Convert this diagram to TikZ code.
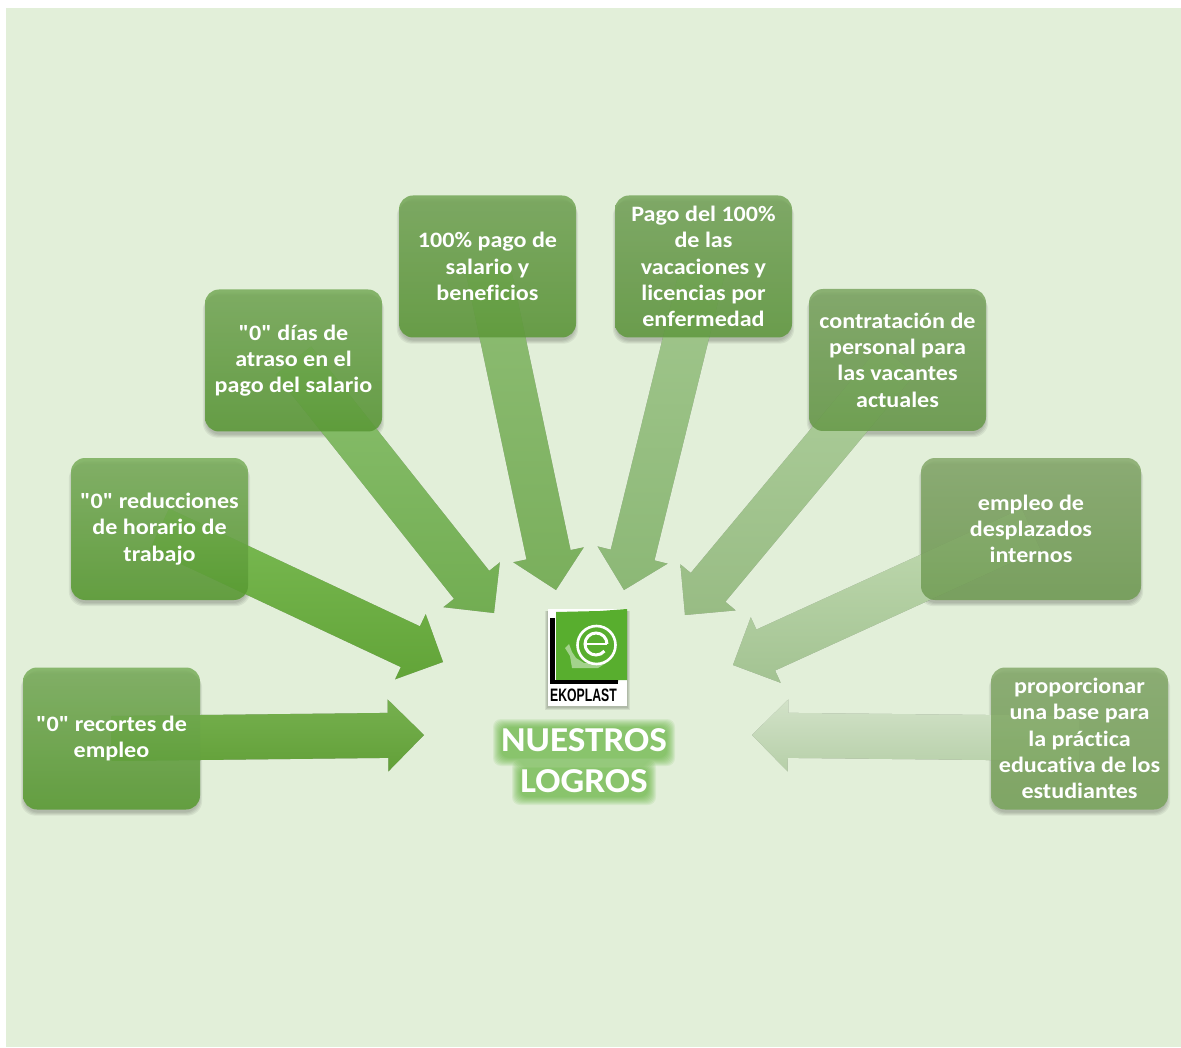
\documentclass[tikz,border=0pt]{standalone}
\usepackage{fontspec}
\newfontfamily\boxfont[Ligatures={NoCommon},FakeStretch=1.095]{Carlito}
\newfontfamily\titlefont[Ligatures={NoCommon},FakeStretch=1.064]{Carlito}
\newfontfamily\logofont{Liberation Sans}
\usetikzlibrary{calc}
\pgfdeclarelayer{pagebg}
\pgfdeclarelayer{arrowlayer}
\pgfsetlayers{pagebg,arrowlayer,main}
\definecolor{pagegreen}{HTML}{E2EFD9}
\definecolor{logogreen}{HTML}{58AE2E}
\definecolor{bta}{HTML}{7AAE5C}\definecolor{bba}{HTML}{579A30}
\definecolor{btb}{HTML}{7AAE5C}\definecolor{bbb}{HTML}{579A30}
\definecolor{btc}{HTML}{76AA58}\definecolor{bbc}{HTML}{599835}
\definecolor{btd}{HTML}{74A657}\definecolor{bbd}{HTML}{5C9838}
\definecolor{bte}{HTML}{77A65C}\definecolor{bbe}{HTML}{5F983E}
\definecolor{btf}{HTML}{7CA662}\definecolor{bbf}{HTML}{669948}
\definecolor{btg}{HTML}{85A96B}\definecolor{bbg}{HTML}{709C53}
\definecolor{bth}{HTML}{85AA6B}\definecolor{bbh}{HTML}{78A35A}
\definecolor{ata}{HTML}{76B04F}\definecolor{aba}{HTML}{62A038}
\definecolor{atb}{HTML}{7BBB54}\definecolor{abb}{HTML}{62A438}
\definecolor{atc}{HTML}{8AC06E}\definecolor{abc}{HTML}{72AD52}
\definecolor{atd}{HTML}{8EBD74}\definecolor{abd}{HTML}{7AAF5C}
\definecolor{ate}{HTML}{A2C78E}\definecolor{abe}{HTML}{8CB876}
\definecolor{atf}{HTML}{AECF9C}\definecolor{abf}{HTML}{98BC84}
\definecolor{atg}{HTML}{C2DBB2}\definecolor{abg}{HTML}{A3C392}
\definecolor{ath}{HTML}{D2E2C8}\definecolor{abh}{HTML}{B6CFA8}
\tikzset{
  goalbox/.style n args={2}{rounded corners=14pt,minimum height=142pt,inner sep=0pt,
    top color=#1,bottom color=#2,fill opacity=.86,text opacity=1,text=white,
    font=\boxfont\fontsize{22}{26.3}\selectfont\bfseries,align=center},
  boxwide/.style={minimum width=177pt},
  titletext/.style={text=white,font=\titlefont\fontsize{35}{41}\selectfont\bfseries,align=center,inner sep=0pt}
}
\newcommand{\boxshadow}[1]{%
  \begin{pgfonlayer}{arrowlayer}
  \foreach \gx/\gy in {-1/3,0/4,1/5,2/6}{
    \fill[black,opacity=.06,rounded corners=15pt]
      ($(#1.north west)+(-\gx,\gy)$) rectangle ($(#1.south east)+(\gx,\gy)$);
  }
  \end{pgfonlayer}}
\newcommand{\blockarrow}[4]{%
  \begin{pgfonlayer}{arrowlayer}
  \coordinate (hb) at ($(#2)!36pt!(#1.center)$);
  \coordinate (p1) at ($(#1.center)!22.5pt!-90:(#2)$);
  \coordinate (p2) at ($(hb)!22.5pt!-90:(#2)$);
  \coordinate (p3) at ($(hb)!36pt!-90:(#2)$);
  \coordinate (p4) at ($(hb)!36pt!90:(#2)$);
  \coordinate (p5) at ($(hb)!22.5pt!90:(#2)$);
  \coordinate (p6) at ($(#1.center)!22.5pt!90:(#2)$);
  \foreach \sx/\sy in {0/1,0/2,0/3,0/4}{
    \fill[black,opacity=.09,shift={(\sx,\sy)}] (p1)--(p2)--(p3)--(#2)--(p4)--(p5)--(p6)--cycle;
  }
  \shade[top color=#3,bottom color=#4] (p1)--(p2)--(p3)--(#2)--(p4)--(p5)--(p6)--cycle;
  \end{pgfonlayer}}
\begin{document}
\begin{tikzpicture}[x=1pt,y=-1pt]
\useasboundingbox (0,0) rectangle (1181,1048);
\begin{pgfonlayer}{pagebg}
  \fill[white] (0,0) rectangle (1181,1048);
  \fill[pagegreen] (6,8) rectangle (1181,1047);
\end{pgfonlayer}

% boxes
\node[goalbox={bta}{bba},boxwide] (b1) at (111.5,738.5) {"0" recortes de\\empleo};
\node[goalbox={btb}{bbb},boxwide] (b2) at (159.5,529) {"0" reducciones\\de horario de\\trabajo};
\node[goalbox={btc}{bbc},boxwide] (b3) at (293.5,360.5) {"0" días de\\atraso en el\\pago del salario};
\node[goalbox={btd}{bbd},boxwide] (b4) at (487.5,266.5) {100\% pago de\\salario y\\beneficios};
\node[goalbox={bte}{bbe},boxwide] (b5) at (703.5,266.5) {Pago del 100\%\\de las\\vacaciones y\\licencias por\\enfermedad};
\node[goalbox={btf}{bbf},boxwide] (b6) at (897.5,360) {contratación de\\personal para\\las vacantes\\actuales};
\node[goalbox={btg}{bbg},minimum width=220pt] (b7) at (1031,529) {empleo de\\desplazados\\internos};
\node[goalbox={bth}{bbh},boxwide] (b8) at (1079.5,738.5) {proporcionar\\una base para\\la práctica\\educativa de los\\estudiantes};

% central title with its glow
\begin{pgfonlayer}{arrowlayer}
  \foreach \g in {8,7,6,5,4,3,2,1,0}{
    \fill[logogreen,opacity=.10,rounded corners=8pt] (501-\g,727-\g) rectangle (667+\g,758+\g);
    \fill[logogreen,opacity=.10,rounded corners=8pt] (520-\g,768-\g) rectangle (648+\g,797+\g);
  }
\end{pgfonlayer}
\node[titletext] (title) at (584,761) {NUESTROS\\LOGROS};

% logo
\foreach \g in {1,2,3}{\fill[black,opacity=.08] (548-\g,611) rectangle (627+\g,707+\g);}
\node[draw=none,fill=white,minimum width=79pt,minimum height=97pt,inner sep=0pt] (logo) at (587.5,657.5) {};
\fill[logogreen] (556,612) -- (600,611) -- (627,609) -- (627,680) -- (618,680) -- (618,682) -- (556,682) -- cycle;
\fill[black] (550,618) rectangle (555,683);
\fill[black] (550,680) rectangle (618,684);
\fill[white!45!logogreen] (565,648) -- (569,644) -- (572,652) -- (576,658) -- (584,663) -- (606,663) -- (598,668) -- (572,668) -- (570,656) -- cycle;
\draw[white,line width=2.6pt] (596.5,645) circle (19);
\draw[white,line width=3pt] (607,644) arc (0:-320:11 and 11);
\draw[white,line width=2.6pt] (585,644) -- (607,644);
\node[text=black,inner sep=0pt,font=\logofont\bfseries\fontsize{18}{18}\selectfont] (logoname) at (583.5,695) {\scalebox{.68}[1]{EKOPLAST}};

% connectors
\coordinate (t1) at (424,735);
\coordinate (t2) at (443,662);
\coordinate (t3) at (494,613);
\coordinate (t4) at (556,590);
\coordinate (t5) at (624,590);
\coordinate (t6) at (685,615);
\coordinate (t7) at (733,665);
\coordinate (t8) at (752,735);
\foreach \n in {b1,b2,b3,b4,b5,b6,b7,b8}{\boxshadow{\n}}
\blockarrow{b1}{t1}{ata}{aba}
\blockarrow{b2}{t2}{atb}{abb}
\blockarrow{b3}{t3}{atc}{abc}
\blockarrow{b4}{t4}{atd}{abd}
\blockarrow{b5}{t5}{ate}{abe}
\blockarrow{b6}{t6}{atf}{abf}
\blockarrow{b7}{t7}{atg}{abg}
\blockarrow{b8}{t8}{ath}{abh}
\end{tikzpicture}
\end{document}
